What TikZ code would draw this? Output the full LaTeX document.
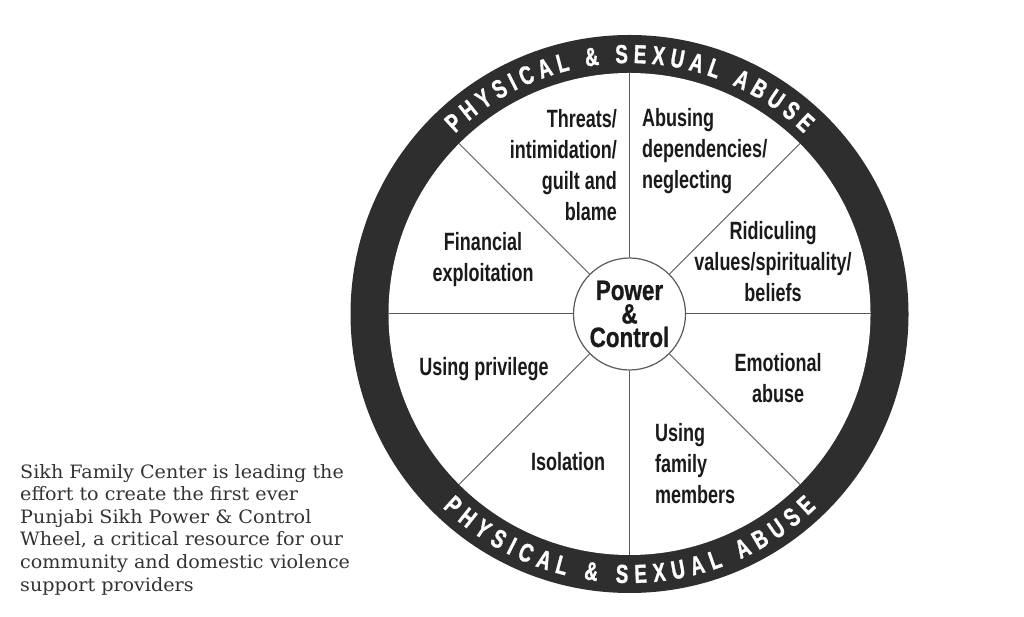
\documentclass[tikz,border=0pt]{standalone}
\usepackage{fontspec}
\setmainfont{DejaVu Serif}
\newfontfamily\descfamily{DejaVu Serif}[FakeStretch=1.04]
\newfontfamily\condfont{Liberation Sans}[FakeStretch=0.72]
\newfontfamily\hubfamily{Liberation Sans}[FakeStretch=0.8,FakeBold=0.8]
\newfontfamily\ringfamily{Liberation Sans}[FakeStretch=0.72,FakeBold=1.2]
\usetikzlibrary{decorations.text}
\definecolor{ringcol}{HTML}{2E2E2E}
\definecolor{spokecol}{HTML}{5A5A5A}
\definecolor{labcol}{HTML}{1A1A1A}
\definecolor{desccol}{HTML}{333333}
\newcommand\labfont{\condfont\bfseries\fontsize{25}{31}\selectfont}
\newcommand\hubfont{\hubfamily\bfseries\fontsize{28}{23.5}\selectfont}
\newcommand\ringfont{\ringfamily\bfseries\fontsize{26}{26}\selectfont}
\newcommand\descfont{\descfamily\fontsize{18.4}{22.6}\selectfont}
\begin{document}
\begin{tikzpicture}[x=1pt,y=1pt,
  lab/.style={font=\labfont, text=labcol, inner sep=0pt},
  spokeline/.style={draw=spokecol, line width=1pt},
  ringtext/.style={decorate, decoration={text along path, text={|\ringfont|PHYSICAL {\&} SEXUAL ABUSE}, text align={fit to path}, text color=white}}]
\useasboundingbox (0,0) rectangle (1024,617);
\coordinate (c) at (629.5,303);
\fill[ringcol] (c) circle[radius=279];
\fill[white] (c) circle[radius=241];
\node[circle, draw=spokecol, line width=1.2pt, minimum size=112pt, inner sep=0pt, fill=white, font=\hubfont, text=labcol, align=center] (hub) at (c) {Power\\\&\\Control};
\foreach \a in {0,45,...,315}
  \draw[spokeline] (hub.\a) -- ([shift={(c)}]\a:241);
% ring texts
\path[ringtext] ([shift={(c)}]134:251) arc[start angle=134, end angle=46, radius=251];
\path[ringtext] ([shift={(c)}]226:269) arc[start angle=226, end angle=314, radius=269];
% segment labels
\node[lab, anchor=east, align=right] (threats) at (617,452) {Threats/\\intimidation/\\guilt and\\blame};
\node[lab, anchor=west, align=left] (abusing) at (642,466) {Abusing\\dependencies/\\neglecting};
\node[lab, align=center] (financial) at (483,357) {Financial\\exploitation};
\node[lab, align=center] (ridicule) at (773,355) {Ridiculing\\values/spirituality/\\beliefs};
\node[lab, align=center] (privilege) at (484,247.5) {Using privilege};
\node[lab, align=center] (emotional) at (778,239) {Emotional\\abuse};
\node[lab, align=center] (isolation) at (568,155) {Isolation};
\node[lab, anchor=west, align=left] (family) at (655,153.5) {Using\\family\\members};
% description
\node[anchor=north west, inner sep=0pt, align=left, font=\descfont, text=desccol] (desc) at (20,153) {Sikh Family Center is leading the\\effort to create the first ever\\Punjabi Sikh Power \& Control\\Wheel, a critical resource for our\\community and domestic violence\\support providers};
\end{tikzpicture}
\end{document}
